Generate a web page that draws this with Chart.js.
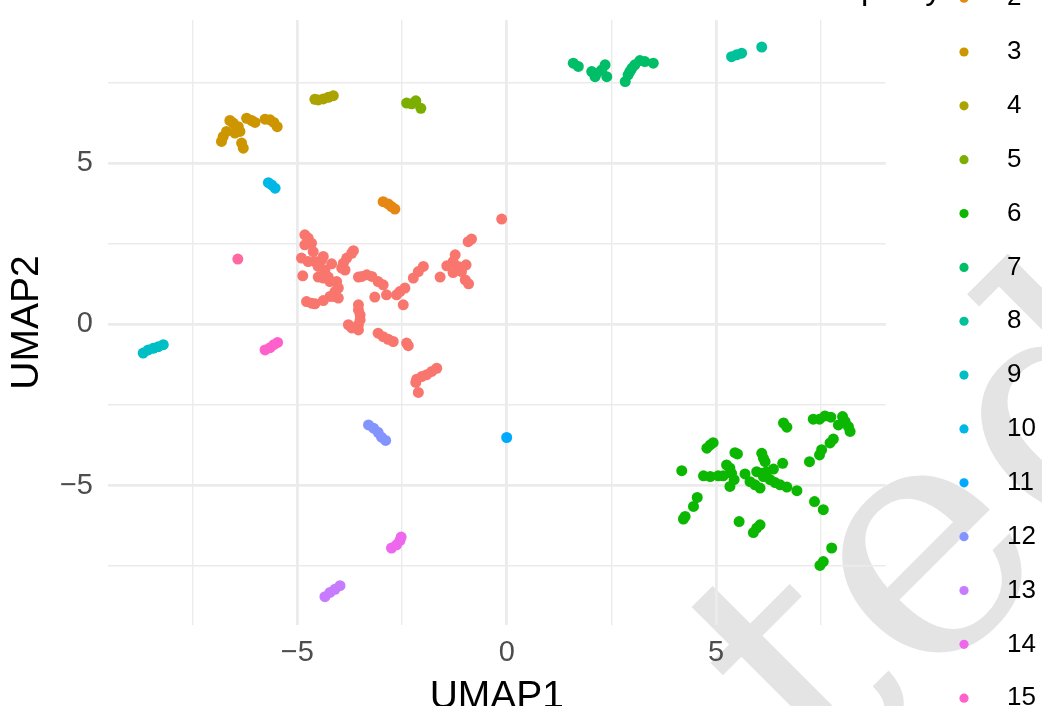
<!DOCTYPE html>
<html lang="en">
<head>
<meta charset="UTF-8">
<title>UMAP clusters</title>
<script src="https://cdn.jsdelivr.net/npm/chart.js"></script>
<style>
  html, body { margin: 0; padding: 0; background: #fff; }
  #umap { display: block; }
</style>
</head>
<body>
<canvas id="umap" width="1042" height="706"></canvas>
<script>
// cluster labels and ggplot hue colours
const clusterIds = ['1', '2', '3', '4', '5', '6', '7', '8', '9', '10', '11', '12', '13', '14', '15', '16'];
const clusterColors = ['#F8766D', '#E68613', '#CD9600', '#ABA300', '#7CAE00', '#0CB702', '#00BE67', '#00C19A',
                       '#00BFC4', '#00B8E7', '#00A9FF', '#8494FF', '#C77CFF', '#ED68ED', '#FF61CC', '#FF68A1'];

// axis breaks and limits
const xBreaks = [-5, 0, 5];
const yBreaks = [-5, 0, 5];
const minorBreaks = [-7.5, -2.5, 2.5, 7.5];
const xLimits = [-9.52, 9.05];
const yLimits = [-9.33, 9.45];

// UMAP1 / UMAP2 per cluster
const umapCluster1 = [
  [-0.12, 3.27], [-0.84, 2.65], [-0.92, 2.57],
  [-1.23, 2.16], [-1.28, 1.95], [-1.43, 1.82], [-1.16, 1.80], [-0.97, 1.85], [-1.28, 1.61], [-1.08, 1.64],
  [-1.59, 1.47], [-0.99, 1.38], [-0.91, 1.26],
  [-1.99, 1.80], [-2.11, 1.64], [-2.23, 1.44],
  [-2.43, 1.13], [-2.55, 1.02], [-2.63, 0.92], [-2.47, 0.61], [-2.87, 0.92],
  [-2.95, 1.23], [-3.07, 1.33], [-3.22, 1.49], [-3.34, 1.54], [-3.46, 1.49], [-3.54, 1.47], [-3.15, 0.85],
  [-4.82, 2.78], [-4.74, 2.68], [-4.66, 2.52], [-4.82, 2.47], [-4.62, 2.26],
  [-4.90, 2.06], [-4.74, 1.95], [-4.58, 1.95], [-4.42, 2.00], [-4.38, 2.11], [-4.18, 1.88], [-4.50, 1.80], [-4.34, 1.69],
  [-4.87, 1.51], [-4.50, 1.47], [-4.38, 1.44], [-4.26, 1.47], [-4.22, 1.33],
  [-4.06, 1.33], [-4.02, 1.13], [-4.10, 1.02], [-4.14, 0.87], [-4.02, 0.82], [-4.22, 0.87],
  [-4.78, 0.71], [-4.66, 0.66], [-4.58, 0.64], [-4.38, 0.74],
  [-3.90, 1.90], [-3.82, 2.06], [-3.70, 2.21], [-3.66, 2.29], [-3.94, 1.75], [-3.86, 1.69],
  [-3.54, 0.61], [-3.54, 0.45], [-3.50, 0.30], [-3.50, 0.14], [-3.54, -0.01], [-3.78, -0.01], [-3.70, -0.11], [-3.54, -0.17],
  [-3.07, -0.27], [-2.95, -0.38], [-2.83, -0.46], [-2.71, -0.53], [-2.39, -0.58], [-2.35, -0.66],
  [-1.67, -1.36], [-1.79, -1.46], [-1.91, -1.56], [-2.03, -1.62], [-2.15, -1.70], [-2.17, -1.80], [-2.11, -2.11]
];
const umapCluster2 = [[-2.95, 3.81], [-2.83, 3.74], [-2.75, 3.66], [-2.67, 3.58]];
const umapCluster3 = [
  [-6.61, 6.33], [-6.53, 6.25], [-6.41, 6.14], [-6.37, 5.99], [-6.49, 5.94], [-6.69, 5.99], [-6.77, 5.83],
  [-6.81, 5.68], [-6.33, 5.63], [-6.29, 5.47], [-6.21, 6.40], [-6.09, 6.33], [-6.01, 6.27], [-5.77, 6.37],
  [-5.65, 6.35], [-5.56, 6.27], [-5.48, 6.14], [-6.45, 6.06]
];
const umapCluster4 = [[-4.58, 6.99], [-4.50, 6.97], [-4.38, 7.00], [-4.26, 7.05], [-4.14, 7.10]];
const umapCluster5 = [[-2.39, 6.87], [-2.27, 6.85], [-2.17, 6.94], [-2.05, 6.71]];
const umapCluster6 = [
  [4.18, -4.54], [4.70, -4.70], [4.86, -4.72], [5.05, -4.70], [5.17, -4.70],
  [4.78, -3.84], [4.86, -3.74], [4.93, -3.67], [5.45, -3.98], [5.51, -4.02],
  [5.25, -4.36], [5.33, -4.46], [5.37, -4.62], [5.43, -4.82], [5.33, -5.03], [5.69, -4.64],
  [6.09, -4.00], [6.13, -4.15], [6.17, -4.26], [5.97, -4.57], [6.09, -4.62], [6.21, -4.57], [6.37, -4.49], [6.59, -4.31],
  [5.81, -4.88], [5.93, -4.98], [6.05, -5.08], [6.13, -4.72], [6.29, -4.82], [6.41, -4.91], [6.53, -4.98], [6.69, -5.05],
  [6.93, -5.16], [6.61, -3.06], [6.69, -3.19],
  [7.32, -2.94], [7.47, -2.94], [7.60, -2.84], [7.74, -2.88], [8.02, -2.86], [8.08, -3.01], [8.16, -3.17], [8.20, -3.32], [7.92, -3.12],
  [7.80, -3.56], [7.72, -3.68], [7.52, -3.89], [7.47, -4.05], [7.23, -4.26],
  [7.35, -5.50], [7.56, -5.75], [7.76, -6.94], [7.56, -7.36], [7.48, -7.48],
  [4.55, -5.37], [4.46, -5.65], [4.26, -5.96], [4.22, -6.04],
  [5.55, -6.12], [6.05, -6.22], [5.97, -6.32], [5.89, -6.46]
];
const umapCluster7 = [
  [1.59, 8.11], [1.71, 8.01], [2.03, 7.85], [2.15, 7.80], [2.27, 7.90], [2.35, 8.06], [2.11, 7.69], [2.39, 7.69],
  [2.83, 7.54], [2.90, 7.75], [2.99, 7.95], [3.06, 8.06], [3.18, 8.19], [3.30, 8.16], [3.50, 8.11], [2.94, 7.85]
];
const umapCluster8 = [[5.37, 8.31], [5.49, 8.37], [5.61, 8.42], [6.09, 8.61]];
const umapCluster9 = [[-8.68, -0.89], [-8.56, -0.79], [-8.44, -0.74], [-8.32, -0.69], [-8.20, -0.63]];
const umapCluster10 = [[-5.69, 4.40], [-5.61, 4.33], [-5.53, 4.23]];
const umapCluster11 = [[0.00, -3.51]];
const umapCluster12 = [[-3.30, -3.12], [-3.18, -3.22], [-3.07, -3.35], [-2.99, -3.50], [-2.89, -3.60]];
const umapCluster13 = [[-4.34, -8.45], [-4.22, -8.32], [-4.10, -8.22], [-3.98, -8.11]];
const umapCluster14 = [[-2.75, -6.94], [-2.63, -6.84], [-2.55, -6.71], [-2.52, -6.60]];
const umapCluster15 = [[-5.77, -0.79], [-5.65, -0.72], [-5.56, -0.63], [-5.47, -0.56]];
const umapCluster16 = [[-6.42, 2.03]];

const umapClusters = [umapCluster1, umapCluster2, umapCluster3, umapCluster4, umapCluster5, umapCluster6,
  umapCluster7, umapCluster8, umapCluster9, umapCluster10, umapCluster11, umapCluster12,
  umapCluster13, umapCluster14, umapCluster15, umapCluster16];

const SANS = '"Liberation Sans", Arial, Helvetica, sans-serif';
Chart.defaults.font.family = SANS;

function fmt(v) {
  return v < 0 ? '\u2212' + Math.abs(v) : String(v);
}

const allBreaks = [...minorBreaks, ...xBreaks].sort((a, b) => a - b);

// big grey diagonal "Accepted" stamp under everything
const watermark = {
  id: 'watermark',
  beforeDraw(chart) {
    const ctx = chart.ctx;
    ctx.save();
    ctx.fillStyle = '#ffffff';
    ctx.fillRect(0, 0, chart.width, chart.height);
    const word = 'Accepted';
    const size = 330;
    const spacing = 4;
    ctx.font = size + 'px "DejaVu Serif", "Liberation Serif", serif';
    ctx.fillStyle = '#e4e4e4';
    // letter positions along the baseline
    const xs = [];
    let pos = 0;
    for (const ch of word) {
      xs.push(pos);
      pos += ctx.measureText(ch).width + spacing;
    }
    // ink centre of the second "e", which sits at (929, 563) on the page
    const m = ctx.measureText('e');
    const ex = xs[6] + (m.actualBoundingBoxRight - m.actualBoundingBoxLeft) / 2;
    const ey = (m.actualBoundingBoxDescent - m.actualBoundingBoxAscent) / 2;
    const a = -Math.PI / 4;
    const rx = ex * Math.cos(a) - ey * Math.sin(a);
    const ry = ex * Math.sin(a) + ey * Math.cos(a);
    ctx.translate(929 - rx, 563 - ry);
    ctx.rotate(a);
    [...word].forEach((ch, i) => ctx.fillText(ch, xs[i], 0));
    ctx.restore();
  }
};

// ggplot style legend on the right (clipped by the image edge)
const sideLegend = {
  id: 'sideLegend',
  afterDraw(chart) {
    const ctx = chart.ctx;
    ctx.save();
    ctx.fillStyle = '#000';
    ctx.font = '33px ' + SANS;
    ctx.textBaseline = 'alphabetic';
    ctx.fillText('purity', 861, -1);
    ctx.font = '26px ' + SANS;
    ctx.textBaseline = 'middle';
    clusterIds.forEach((id, i) => {
      const y = 52 + (i - 2) * 53.85;
      ctx.fillStyle = clusterColors[i];
      ctx.beginPath();
      ctx.arc(964, y, 4.6, 0, Math.PI * 2);
      ctx.fill();
      ctx.fillStyle = '#000';
      ctx.fillText(id, 1007, y);
    });
    ctx.restore();
  }
};

new Chart(document.getElementById('umap'), {
  type: 'scatter',
  data: {
    datasets: clusterIds.map((id, i) => ({
      label: id,
      data: umapClusters[i].map(p => ({ x: p[0], y: p[1] })),
      backgroundColor: clusterColors[i],
      pointRadius: 5.5,
      pointBorderWidth: 0,
      borderWidth: 0
    }))
  },
  options: {
    responsive: false,
    animation: false,
    devicePixelRatio: 1,
    events: [],
    layout: { autoPadding: false, padding: { top: 20, right: 156.3, left: 0, bottom: 0 } },
    plugins: { legend: { display: false }, tooltip: { enabled: false } },
    scales: {
      x: {
        type: 'linear',
        min: xLimits[0],
        max: xLimits[1],
        afterBuildTicks: s => { s.ticks = allBreaks.map(v => ({ value: v })); },
        afterFit: s => { s.height = 81; s.paddingLeft = 0; s.paddingRight = 0; },
        grid: {
          color: '#ebebeb',
          lineWidth: c => (c.tick && xBreaks.includes(c.tick.value)) ? 2.8 : 1.4,
          drawTicks: false
        },
        border: { display: false },
        ticks: {
          autoSkip: false,
          maxRotation: 0,
          padding: 10.6,
          color: '#4d4d4d',
          font: { size: 29 },
          callback: v => xBreaks.includes(v) ? fmt(v) : ''
        },
        title: {
          display: true,
          text: 'UMAP1',
          color: '#000',
          font: { size: 39, lineHeight: 1 },
          padding: { top: 0, bottom: -10.5 }
        }
      },
      y: {
        type: 'linear',
        min: yLimits[0],
        max: yLimits[1],
        afterBuildTicks: s => { s.ticks = allBreaks.map(v => ({ value: v })); },
        afterFit: s => { s.width = 108; s.paddingTop = 0; s.paddingBottom = 0; },
        grid: {
          color: '#ebebeb',
          lineWidth: c => (c.tick && yBreaks.includes(c.tick.value)) ? 2.8 : 1.4,
          drawTicks: false
        },
        border: { display: false },
        ticks: {
          autoSkip: false,
          padding: 15,
          color: '#4d4d4d',
          font: { size: 29 },
          callback: v => yBreaks.includes(v) ? fmt(v) : ''
        },
        title: {
          display: true,
          text: 'UMAP2',
          color: '#000',
          font: { size: 39, lineHeight: 1 },
          padding: { top: 8, bottom: 0 }
        }
      }
    }
  },
  plugins: [watermark, sideLegend]
});
</script>
</body>
</html>
